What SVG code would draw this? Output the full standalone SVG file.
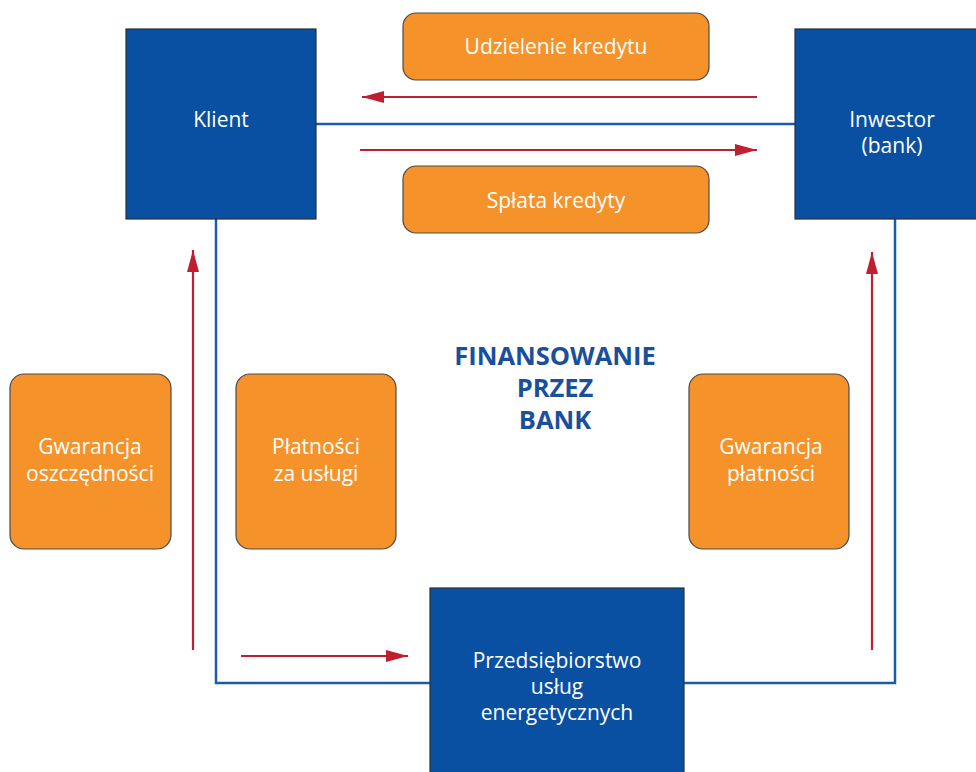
<svg xmlns="http://www.w3.org/2000/svg" width="976" height="772" viewBox="0 0 976 772">
  <defs>
    <marker id="arrow" markerWidth="22" markerHeight="12" refX="22" refY="6" orient="auto" markerUnits="userSpaceOnUse">
      <path d="M0,0 L22,6 L0,12 Z" fill="#c01f2f"/>
    </marker>
    <style>
      .entity { fill: #0a50a2; stroke: #2a2f3a; stroke-width: 1.2; }
      .flow { fill: #f5922a; stroke: #4a4a4a; stroke-width: 1.2; }
      .label { font-family: "Open Sans", "Noto Sans", "Liberation Sans", sans-serif; font-size: 21px; fill: #ffffff; text-anchor: middle; }
      .link { fill: none; stroke: #1a5bab; stroke-width: 2.5; }
      .money { fill: none; stroke: #c01f2f; stroke-width: 2.2; marker-end: url(#arrow); }
      .title { font-family: "Open Sans", "Noto Sans", "Liberation Sans", sans-serif; font-size: 25.5px; font-weight: bold; fill: #1a4f9c; text-anchor: middle; }
    </style>
  </defs>
  <rect width="976" height="772" fill="#ffffff"/>

  <!-- connectors -->
  <g id="connectors">
    <line class="link" x1="316" y1="124" x2="795" y2="124"/>
    <polyline class="link" points="216,219 216,683 430,683"/>
    <polyline class="link" points="684,683 895,683 895,219"/>
    <line class="money" x1="757" y1="97" x2="362" y2="97"/>
    <line class="money" x1="360" y1="150" x2="757" y2="150"/>
    <line class="money" x1="193" y1="650" x2="193" y2="250"/>
    <line class="money" x1="872" y1="650" x2="872" y2="252"/>
    <line class="money" x1="241" y1="656" x2="408" y2="656"/>
  </g>

  <g id="klient">
    <rect class="entity" x="126" y="29" width="190" height="190"/>
    <text class="label" x="221" y="127">Klient</text>
  </g>

  <g id="inwestor">
    <rect class="entity" x="795" y="29" width="190" height="190"/>
    <text class="label" x="892" y="127">Inwestor</text>
    <text class="label" x="892" y="153">(bank)</text>
  </g>

  <g id="przedsiebiorstwo">
    <rect class="entity" x="430" y="588" width="254" height="190"/>
    <text class="label" x="557" y="668">Przedsiębiorstwo</text>
    <text class="label" x="557" y="694">usług</text>
    <text class="label" x="557" y="720">energetycznych</text>
  </g>

  <g id="udzielenie-kredytu">
    <rect class="flow" x="403" y="13" width="306" height="67" rx="13"/>
    <text class="label" x="556" y="54">Udzielenie kredytu</text>
  </g>

  <g id="splata-kredytu">
    <rect class="flow" x="403" y="166" width="306" height="67" rx="13"/>
    <text class="label" x="556" y="208">Spłata kredyty</text>
  </g>

  <g id="gwarancja-oszczednosci">
    <rect class="flow" x="10" y="374" width="161" height="175" rx="14"/>
    <text class="label" x="90" y="454">Gwarancja</text>
    <text class="label" x="90" y="481">oszczędności</text>
  </g>

  <g id="platnosci">
    <rect class="flow" x="236" y="374" width="160" height="175" rx="14"/>
    <text class="label" x="316" y="454">Płatności</text>
    <text class="label" x="316" y="481">za usługi</text>
  </g>

  <g id="gwarancja-platnosci">
    <rect class="flow" x="689" y="374" width="160" height="175" rx="14"/>
    <text class="label" x="771" y="454">Gwarancja</text>
    <text class="label" x="771" y="481">płatności</text>
  </g>

  <g id="tytul">
    <text class="title" x="555" y="365">FINANSOWANIE</text>
    <text class="title" x="555" y="397">PRZEZ</text>
    <text class="title" x="555" y="429">BANK</text>
  </g>
</svg>
